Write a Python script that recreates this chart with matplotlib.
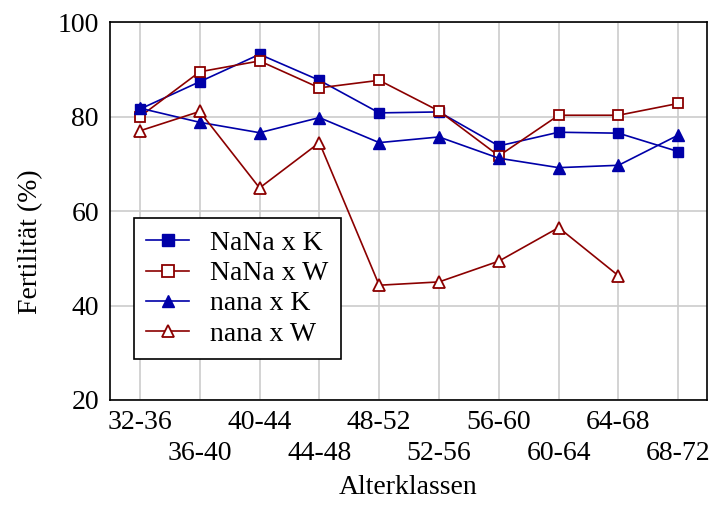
import matplotlib.pyplot as plt
import numpy as np

plt.rcParams['font.family'] = ['Liberation Serif', 'DejaVu Serif']

# age classes
klassen = ['32-36', '36-40', '40-44', '44-48', '48-52',
           '52-56', '56-60', '60-64', '64-68', '68-72']

# fertility in percent
nana_K_NaNa = [81.6, 87.4, 93.2, 87.7, 80.8, 81.0, 73.8, 76.7, 76.5, 72.6]
nana_W_NaNa = [80.0, 89.5, 91.8, 86.1, 87.7, 81.2, 71.7, 80.3, 80.3, 82.8]
nana_K = [81.8, 78.8, 76.6, 79.8, 74.5, 75.7, 71.2, 69.2, 69.7, 76.1]
nana_W = [77.0, 81.1, 64.9, 74.5, 44.3, 45.0, 49.4, 56.5, 46.3]

blue = '#0000a8'
red = '#8b0000'
fs = 20

fig = plt.figure(figsize=(7.12, 5.05), dpi=100)
ax = fig.add_axes([0.1545, 0.208, 0.8385, 0.748])

x = np.arange(len(klassen))
ax.plot(x, nana_K_NaNa, color=blue, lw=1.2, marker='s', ms=7.5,
        mfc=blue, mec=blue, label='NaNa x K', zorder=3)
ax.plot(x, nana_W_NaNa, color=red, lw=1.2, marker='s', ms=7.5,
        mfc='white', mec=red, mew=1.3, label='NaNa x W', zorder=3)
ax.plot(x, nana_K, color=blue, lw=1.2, marker='^', ms=8.5,
        mfc=blue, mec=blue, label='nana x K', zorder=3)
ax.plot(x[:len(nana_W)], nana_W, color=red, lw=1.2, marker='^', ms=8.5,
        mfc='white', mec=red, mew=1.3, label='nana x W', zorder=3)

ax.set_xlim(-0.5, 9.48)
ax.set_ylim(20, 100)
ax.set_yticks([20, 40, 60, 80, 100])
ax.set_xticks(x)
# staggered labels: every second one goes on a lower row
ax.set_xticklabels([k if i % 2 == 0 else '\n' + k for i, k in enumerate(klassen)],
                   linespacing=1.32)
ax.tick_params(axis='both', length=0, labelsize=fs)
ax.tick_params(axis='y', pad=8)
ax.tick_params(axis='x', pad=7)
ax.grid(True, color='#cccccc', lw=1.2)
ax.set_axisbelow(True)
for s in ax.spines.values():
    s.set_linewidth(1.2)
    s.set_color('black')

ax.set_xlabel('Alterklassen', fontsize=fs, labelpad=7)
ax.set_ylabel('Fertilität (%)', fontsize=fs)
ax.yaxis.set_label_coords(-0.112, 0.42)

leg = ax.legend(loc='lower left', bbox_to_anchor=(0.04, 0.108), borderaxespad=0,
                fontsize=fs, fancybox=False, edgecolor='black', framealpha=1,
                handlelength=1.55, labelspacing=0.17, handletextpad=0.75,
                borderpad=0.45, markerscale=1.1)
leg.get_frame().set_linewidth(1.2)

fig.savefig('out.png', dpi=100)
